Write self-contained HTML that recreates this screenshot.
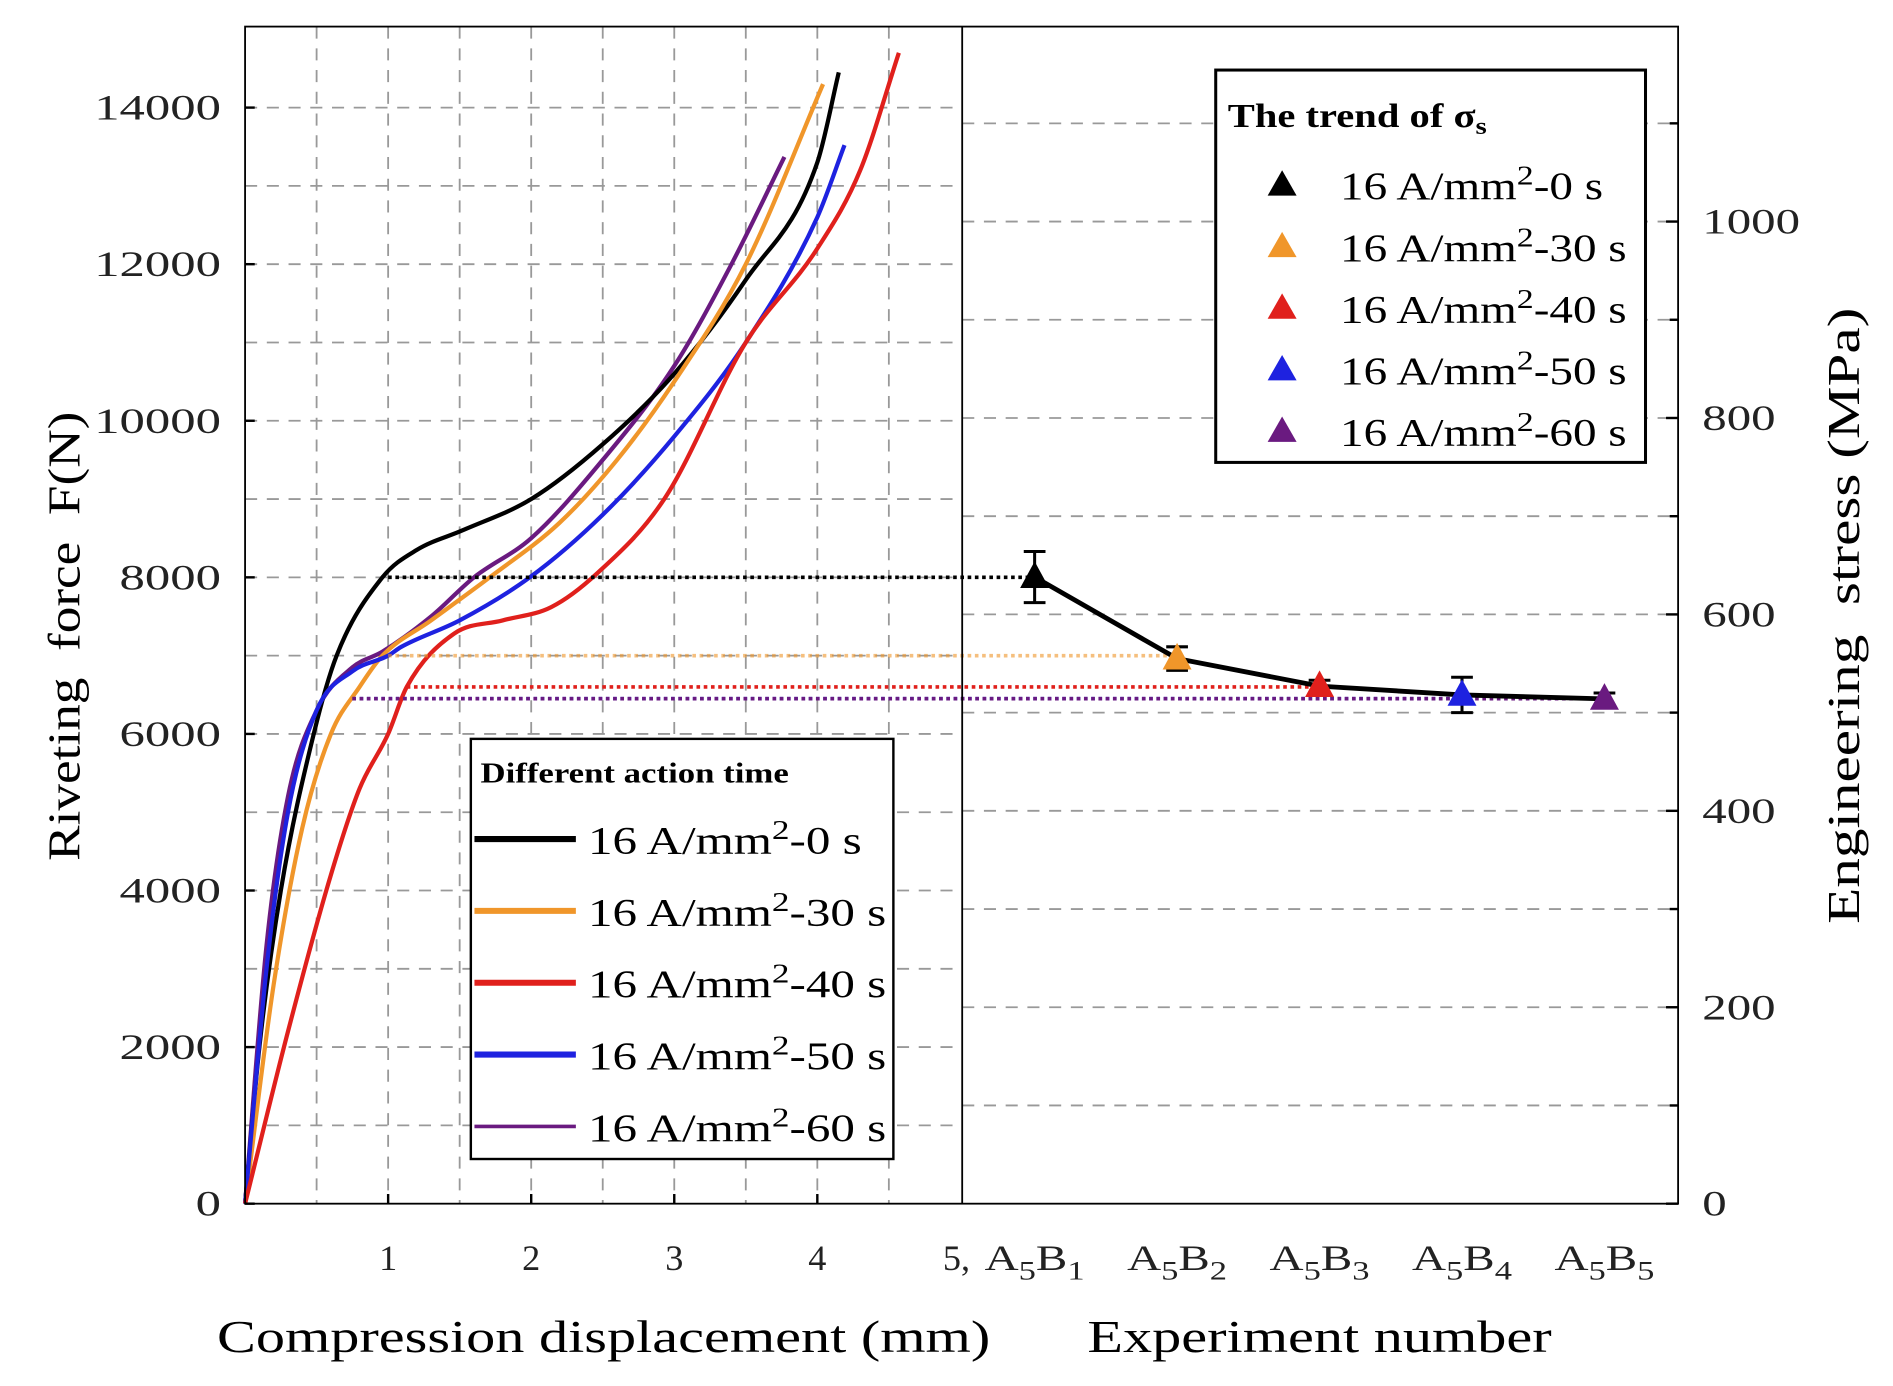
<!DOCTYPE html>
<html><head><meta charset="utf-8"><style>
html,body{margin:0;padding:0;background:#fff;}
svg{display:block;font-family:"Liberation Serif",serif;}
</style></head><body>
<svg id="chart" width="1893" height="1386" viewBox="0 0 1568 1148" xmlns="http://www.w3.org/2000/svg">
<g id="grid"></g>
<g id="curves"></g>
<g id="right"></g>
<g id="axes"></g>
<text x="500" y="1120" font-size="38" text-anchor="middle" transform="translate(500,0) scale(1.27,1) translate(-500,0)">Compression displacement (mm)</text>
<text x="1093" y="1120" font-size="38" text-anchor="middle" transform="translate(1093,0) scale(1.27,1) translate(-1093,0)">Experiment number</text>
<g transform="translate(66,527) rotate(-90)"><text x="0" y="0" font-size="38" text-anchor="middle" xml:space="preserve" transform="scale(1.16,1)">Riveting  force  F(N)</text></g>
<g transform="translate(1540,510) rotate(-90)"><text x="0" y="0" font-size="38" text-anchor="middle" xml:space="preserve" transform="scale(1.29,1)">Engineering  stress (MPa)</text></g>
<g>
<rect x="390" y="612" width="350" height="348" fill="#fff" stroke="#000" stroke-width="2"/>
<text x="398" y="648" font-size="24" font-weight="bold" transform="translate(398,0) scale(1.2,1) translate(-398,0)">Different action time</text>
<g id="leg1"></g>
</g>
<g>
<rect x="1007" y="58" width="356" height="325" fill="#fff" stroke="#000" stroke-width="2.5"/>
<text x="1017" y="105" font-size="28" font-weight="bold" transform="translate(1017,0) scale(1.2,1) translate(-1017,0)">The trend of σ<tspan font-size="20" dy="6">s</tspan></text>
<g id="leg2"></g>
</g>
</svg>
<script>
const seriesNames = ["16 A/mm2-0 s","16 A/mm2-30 s","16 A/mm2-40 s","16 A/mm2-50 s","16 A/mm2-60 s"];
const seriesColors = ["#000000","#f0962a","#e0201c","#1e22e0","#6a1a80"];
const curveX0 = [0,0.1,0.25,0.48,0.64,0.96,1.2,1.52,2,2.5,3,3.5,4,4.15];
const curveF0 = [0,2000,4000,6000,7000,8000,8350,8600,9000,9700,10600,11800,13300,14450];
const curveX30 = [0,0.2,0.4,0.6,0.8,0.96,1.3,1.71,2.2,2.6,3,3.5,4.04];
const curveF30 = [0,2800,4800,6000,6600,7000,7450,8000,8700,9500,10500,12000,14300];
const curveX40 = [0,0.3,0.6,0.8,1,1.13,1.46,1.8,2.14,2.46,2.93,3.5,4,4.3,4.57];
const curveF40 = [0,2200,4200,5300,6000,6600,7280,7450,7620,8050,9000,11000,12200,13200,14700];
const curveX50 = [0,0.15,0.3,0.5,0.75,1,1.09,1.5,1.99,2.5,3,3.5,4,4.19];
const curveF50 = [0,3000,5000,6300,6800,7000,7110,7450,8000,8800,9800,11000,12600,13520];
const curveX60 = [0,0.15,0.3,0.5,0.75,0.96,1.3,1.6,2,2.5,3,3.4,3.77];
const curveF60 = [0,3300,5200,6300,6850,7050,7500,8000,8500,9500,10700,12000,13370];
const experiments = ["A5B1","A5B2","A5B3","A5B4","A5B5"];
const stress = [638,555,527,518,514];
const stressErr = [26,12,6,18,6];
const yieldForce = [8000,7000,6600,6450,6450];
const yieldStart = [1.0,1.0,1.13,0.75,0.75];
const forceTicks = [0,2000,4000,6000,8000,10000,12000,14000];
const dispTicks = [1,2,3,4];
const stressTicks = [0,200,400,600,800,1000];

const NS="http://www.w3.org/2000/svg";
const L=203, M=797, R=1390, T=22, B=997;
const xs=v=>L+v*118.5;
const ys=v=>B-v*129.7/2000;
const xe=i=>857+i*118;
const ysr=v=>B-v*162.7/200;
function mk(p,t,a){const e=document.createElementNS(NS,t);for(const k in a)e.setAttribute(k,a[k]);p.appendChild(e);return e;}
function stretch(el,ax,sx){el.setAttribute('transform',`translate(${ax},0) scale(${sx},1) translate(${-ax},0)`);}
const grid=document.getElementById('grid'), axes=document.getElementById('axes');
for(let v=1000;v<=14000;v+=1000){const g=mk(grid,'line',{x1:L,x2:M,y1:ys(v),y2:ys(v),stroke:'#999','stroke-width':1.5,'stroke-dasharray':'10 8'});
}
for(let v=0.5;v<5;v+=0.5){const g=mk(grid,'line',{x1:xs(v),x2:xs(v),y1:T,y2:B,stroke:'#999','stroke-width':1.5,'stroke-dasharray':'10 8'});
}
for(let v=100;v<=1100;v+=100){const g=mk(grid,'line',{x1:M,x2:R,y1:ysr(v),y2:ysr(v),stroke:'#999','stroke-width':1.5,'stroke-dasharray':'10 8'});
}
mk(axes,'rect',{x:L,y:T,width:R-L,height:B-T,fill:'none',stroke:'#000','stroke-width':1.5});
mk(axes,'line',{x1:M,x2:M,y1:T,y2:B,stroke:'#000','stroke-width':1.5});
forceTicks.forEach(v=>{mk(axes,'line',{x1:L,x2:L+8,y1:ys(v),y2:ys(v),stroke:'#000','stroke-width':2});
const t=mk(axes,'text',{x:183,y:ys(v)+10,'font-size':30,'text-anchor':'end',fill:'#222'});t.textContent=v;stretch(t,183,1.4);
});
dispTicks.forEach(v=>{mk(axes,'line',{x1:xs(v),x2:xs(v),y1:B,y2:B-8,stroke:'#000','stroke-width':2});
const t=mk(axes,'text',{x:xs(v),y:1052,'font-size':30,'text-anchor':'middle',fill:'#222'});t.textContent=v;
});
stressTicks.forEach(v=>{mk(axes,'line',{x1:R,x2:R-10,y1:ysr(v),y2:ysr(v),stroke:'#000','stroke-width':2});
const t=mk(axes,'text',{x:1410,y:ysr(v)+10,'font-size':30,fill:'#222'});t.textContent=v;stretch(t,1410,1.35);
});
for(let v=100;v<=1100;v+=200){mk(axes,'line',{x1:R,x2:R-7,y1:ysr(v),y2:ysr(v),stroke:'#000','stroke-width':2});}
{const t=mk(axes,'text',{x:781,y:1052,'font-size':30,fill:'#222'});t.textContent='5,';
}
experiments.forEach((e,i)=>{const t=mk(axes,'text',{x:xe(i),y:1052,'font-size':30,'text-anchor':'middle',fill:'#222'});
t.innerHTML='A<tspan font-size="22" dy="8">5</tspan><tspan dy="-8">B</tspan><tspan font-size="22" dy="8">'+(i+1)+'</tspan>';
stretch(t,xe(i),1.3);
});
// monotone cubic path
function mono(px,py){const n=px.length,d=[],m=new Array(n);
for(let i=0;i<n-1;i++)d.push((py[i+1]-py[i])/(px[i+1]-px[i]));
m[0]=d[0];m[n-1]=d[n-2];
for(let i=1;i<n-1;i++){m[i]=(d[i-1]*d[i]<=0)?0:(d[i-1]+d[i])/2;}
for(let i=0;i<n-1;i++){if(d[i]===0){m[i]=0;m[i+1]=0;continue;}const a=m[i]/d[i],b=m[i+1]/d[i],s=a*a+b*b;if(s>9){const t=3/Math.sqrt(s);m[i]=t*a*d[i];m[i+1]=t*b*d[i];}}
let p=`M${px[0]},${py[0]}`;
for(let i=0;i<n-1;i++){const h=(px[i+1]-px[i])/3;p+=` C${px[i]+h},${py[i]+m[i]*h} ${px[i+1]-h},${py[i+1]-m[i+1]*h} ${px[i+1]},${py[i+1]}`;}
return p;}
const cx=[curveX0,curveX30,curveX40,curveX50,curveX60], cf=[curveF0,curveF30,curveF40,curveF50,curveF60];
const curves=document.getElementById('curves'), right=document.getElementById('right');
[0,1,2,3,4].forEach(i=>{const l=mk(right,'line',{x1:xs(yieldStart[i]),x2:xe(i),y1:ys(yieldForce[i]),y2:ys(yieldForce[i]),stroke:seriesColors[i],'stroke-width':3,'stroke-dasharray':'3 3',opacity:i==1?0.6:1});
});
[4,0,1,3,2].forEach(i=>{const p=mk(curves,'path',{d:mono(cx[i].map(xs),cf[i].map(ys)),fill:'none',stroke:seriesColors[i],'stroke-width':3.5});
});
const pl=mk(right,'polyline',{points:stress.map((s,i)=>xe(i)+','+ysr(s)).join(' '),fill:'none',stroke:'#000','stroke-width':4});

stress.forEach((s,i)=>{const x=xe(i),y=ysr(s),e=stressErr[i]*162.7/200;
mk(right,'path',{d:`M${x},${y-e}V${y+e}M${x-9},${y-e}H${x+9}M${x-9},${y+e}H${x+9}`,stroke:'#000','stroke-width':2.5,fill:'none'});
const tr=mk(right,'polygon',{points:`${x},${y-13} ${x-12},${y+9} ${x+12},${y+9}`,fill:seriesColors[i]});
});
const leg1=document.getElementById('leg1'), leg2=document.getElementById('leg2');
seriesNames.forEach((n,i)=>{const y=695+i*59.5;
mk(leg1,'line',{x1:393,x2:477,y1:y,y2:y,stroke:seriesColors[i],'stroke-width':i==4?3:5});
const t=mk(leg1,'text',{x:487,y:y+12,'font-size':32});
t.innerHTML='16 A/mm<tspan font-size="23" dy="-12">2</tspan><tspan dy="12">'+n.split('mm2')[1]+'</tspan>';
stretch(t,487,1.27);

const y2=153+i*51;
mk(leg2,'polygon',{points:`1062,${y2-12} 1050,${y2+9} 1074,${y2+9}`,fill:seriesColors[i]});
const t2=mk(leg2,'text',{x:1110,y:y2+12,'font-size':32});
t2.innerHTML='16 A/mm<tspan font-size="23" dy="-12">2</tspan><tspan dy="12">'+n.split('mm2')[1]+'</tspan>';
stretch(t2,1110,1.22);
});
</script>
</body></html>
